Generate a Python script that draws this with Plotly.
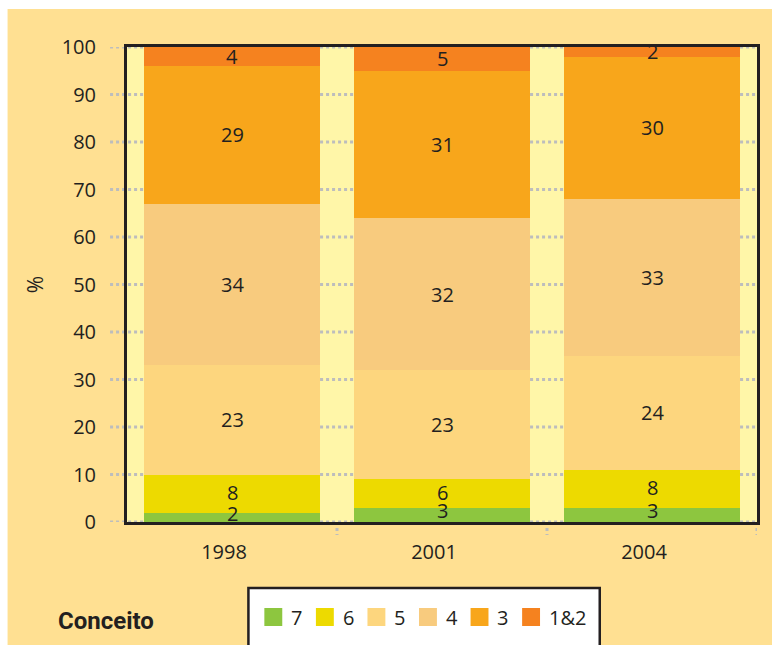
import plotly.graph_objects as go

# Survey years and share (%) of each concept grade
years = ["1998", "2001", "2004"]
grades = ["7", "6", "5", "4", "3", "1&2"]
grade_7 = [2, 3, 3]
grade_6 = [8, 6, 8]
grade_5 = [23, 23, 24]
grade_4 = [34, 32, 33]
grade_3 = [29, 31, 30]
grade_1_2 = [4, 5, 2]
y_ticks = [0, 10, 20, 30, 40, 50, 60, 70, 80, 90, 100]

series = [grade_7, grade_6, grade_5, grade_4, grade_3, grade_1_2]
colors = ["#8DC63F", "#EDDA00", "#FDD67E", "#F8CB7E", "#F8A61B", "#F5821F"]

PANEL = "#FFE092"
PLOT_BG = "#FFF6A8"
INK = "#231F20"
GRID = "#BDBDBD"
FONT = "Open Sans"

# plot-area pixel geometry (used to place paper-referenced decorations)
L, R, T, B = 127, 12, 47, 123
W, H = 772, 645
PW, PH = W - L - R, H - T - B


def px_x(px):
    return (px - L) / PW


def px_y(py):
    return (H - B - py) / PH


fig = go.Figure()
annotations = []
base = [0] * len(years)

for gi, (name, vals, col) in enumerate(zip(grades, series, colors)):
    fig.add_trace(go.Bar(
        x=years, y=vals, name=name, marker=dict(color=col, line=dict(width=0)),
        width=0.84, hoverinfo="skip",
    ))
    # value labels centred in each stacked segment (x given as category index);
    # the thin bottom segment's label is lifted clear of the frame
    for k, v in enumerate(vals):
        annotations.append(dict(
            x=k, y=base[k] + v / 2, xref="x", yref="y", text=str(v),
            showarrow=False, yshift=4 if gi == 0 else (1 if gi == 1 else 0),
            xanchor="center", yanchor="middle",
            font=dict(family=FONT, size=20, color=INK),
        ))
        base[k] += v

shapes = []
# white outer margin on top and left
shapes.append(dict(type="rect", xref="paper", yref="paper", x0=-0.3, x1=1.2,
                   y0=px_y(9), y1=1.3, fillcolor="white", line=dict(width=0), layer="below"))
shapes.append(dict(type="rect", xref="paper", yref="paper", x0=-0.3, x1=px_x(7),
                   y0=-0.4, y1=1.3, fillcolor="white", line=dict(width=0), layer="below"))
# dotted horizontal gridlines, extending left of the frame
for v in y_ticks:
    shapes.append(dict(type="line", xref="paper", yref="y", x0=px_x(110), x1=1,
                       y0=v, y1=v, line=dict(color=GRID, width=3, dash="3px,3px"), layer="below"))
# dotted ticks between categories below the frame
for xv in [0.5, 1.5, 2.5]:
    shapes.append(dict(type="line", xref="x", yref="paper", x0=xv, x1=xv,
                       y0=0, y1=px_y(535), line=dict(color=GRID, width=3, dash="3px,3px"), layer="below"))
# legend box
shapes.append(dict(type="rect", xref="paper", yref="paper", x0=px_x(249), x1=px_x(602),
                   y0=px_y(660), y1=px_y(588), fillcolor="white",
                   line=dict(color=INK, width=2.5), layer="below"))

# legend entries: colour swatch followed by the grade name
SW = 18
for i, (name, col) in enumerate(zip(grades, colors)):
    left = 265 + i * 51.8
    shapes.append(dict(type="rect", xref="paper", yref="paper",
                       x0=px_x(left), x1=px_x(left + SW),
                       y0=px_y(626), y1=px_y(608),
                       fillcolor=col, line=dict(width=0), layer="below"))
    annotations.append(dict(
        text=name, xref="paper", yref="paper", x=px_x(left + SW + 7), y=px_y(617),
        xanchor="left", yanchor="middle", showarrow=False,
        font=dict(family=FONT, size=20, color=INK),
    ))

annotations.append(dict(
    text="<b>Conceito</b>", xref="paper", yref="paper",
    x=px_x(56), y=px_y(621), xanchor="left", yanchor="middle", showarrow=False,
    font=dict(family="Roboto", size=24, color=INK),
))

fig.update_layout(
    width=W, height=H,
    margin=dict(l=L, r=R, t=T, b=B, pad=0),
    paper_bgcolor=PANEL, plot_bgcolor=PLOT_BG,
    barmode="stack", bargap=0,
    font=dict(family=FONT, size=20, color=INK),
    shapes=shapes, annotations=annotations,
    showlegend=False,
)

fig.update_xaxes(
    type="category", range=[-0.5, 2.5], showgrid=False, zeroline=False,
    showline=True, mirror=True, linecolor=INK, linewidth=3,
    ticks="outside", ticklen=0, tickcolor="rgba(0,0,0,0)",
    ticklabelstandoff=10, ticklabelshift=-8,
    tickfont=dict(family=FONT, size=20, color=INK),
)
fig.update_yaxes(
    range=[0, 100], tickvals=y_ticks, showgrid=False, zeroline=False,
    showline=True, mirror=True, linecolor=INK, linewidth=3,
    ticks="outside", ticklen=0, tickcolor="rgba(0,0,0,0)", ticklabelstandoff=24,
    tickfont=dict(family=FONT, size=20, color=INK),
    title=dict(text="%", standoff=13, font=dict(family=FONT, size=21, color=INK)),
)

fig.write_html("out.html")
